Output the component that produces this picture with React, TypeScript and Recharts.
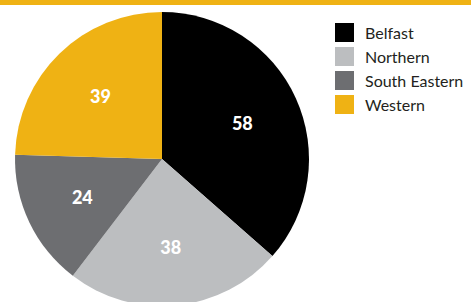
import { PieChart, Pie, Cell } from "recharts";

const regions = ["Belfast", "Northern", "South Eastern", "Western"];
const counts = [58, 38, 24, 39];
const colors = ["#000000", "#bcbec0", "#6d6e71", "#efb214"];

const data = regions.map((name, i) => ({ name, value: counts[i] }));

const RADIAN = Math.PI / 180;

function renderLabel(props: any) {
  const { cx, cy, midAngle, outerRadius, value } = props;
  const r = outerRadius * 0.6;
  const x = cx + r * Math.cos(-midAngle * RADIAN);
  const y = cy + r * Math.sin(-midAngle * RADIAN);
  return (
    <text
      x={x}
      y={y}
      fill="#ffffff"
      textAnchor="middle"
      dominantBaseline="central"
      fontFamily="Lato, 'DejaVu Sans', sans-serif"
      fontWeight={900}
      fontSize={18}
    >
      {value}
    </text>
  );
}

export default function App() {
  return (
    <div
      style={{
        position: "fixed",
        top: 0,
        left: 0,
        width: 471,
        height: 302,
        background: "#ffffff",
        overflow: "hidden",
      }}
    >
      <div style={{ position: "absolute", top: 0, left: 0, width: 471, height: 5, background: "#efb214" }} />
      <PieChart width={471} height={302} margin={{ top: 0, right: 0, bottom: 0, left: 0 }}>
        <Pie
          data={data}
          dataKey="value"
          nameKey="name"
          cx={162}
          cy={159}
          outerRadius={147}
          startAngle={90}
          endAngle={-270}
          stroke="none"
          label={renderLabel}
          labelLine={false}
          isAnimationActive={false}
        >
          {data.map((d, i) => (
            <Cell key={d.name} fill={colors[i]} />
          ))}
        </Pie>
      </PieChart>
      <div style={{ position: "absolute", left: 335, top: 20 }}>
        {regions.map((name, i) => (
          <div key={name} style={{ display: "flex", alignItems: "center", height: 24 }}>
            <div style={{ width: 19, height: 19, background: colors[i], marginRight: 11 }} />
            <span
              style={{
                fontFamily: "Lato, 'DejaVu Sans', sans-serif",
                fontSize: 16,
                color: "#231f20",
                lineHeight: "19px",
              }}
            >
              {name}
            </span>
          </div>
        ))}
      </div>
    </div>
  );
}
